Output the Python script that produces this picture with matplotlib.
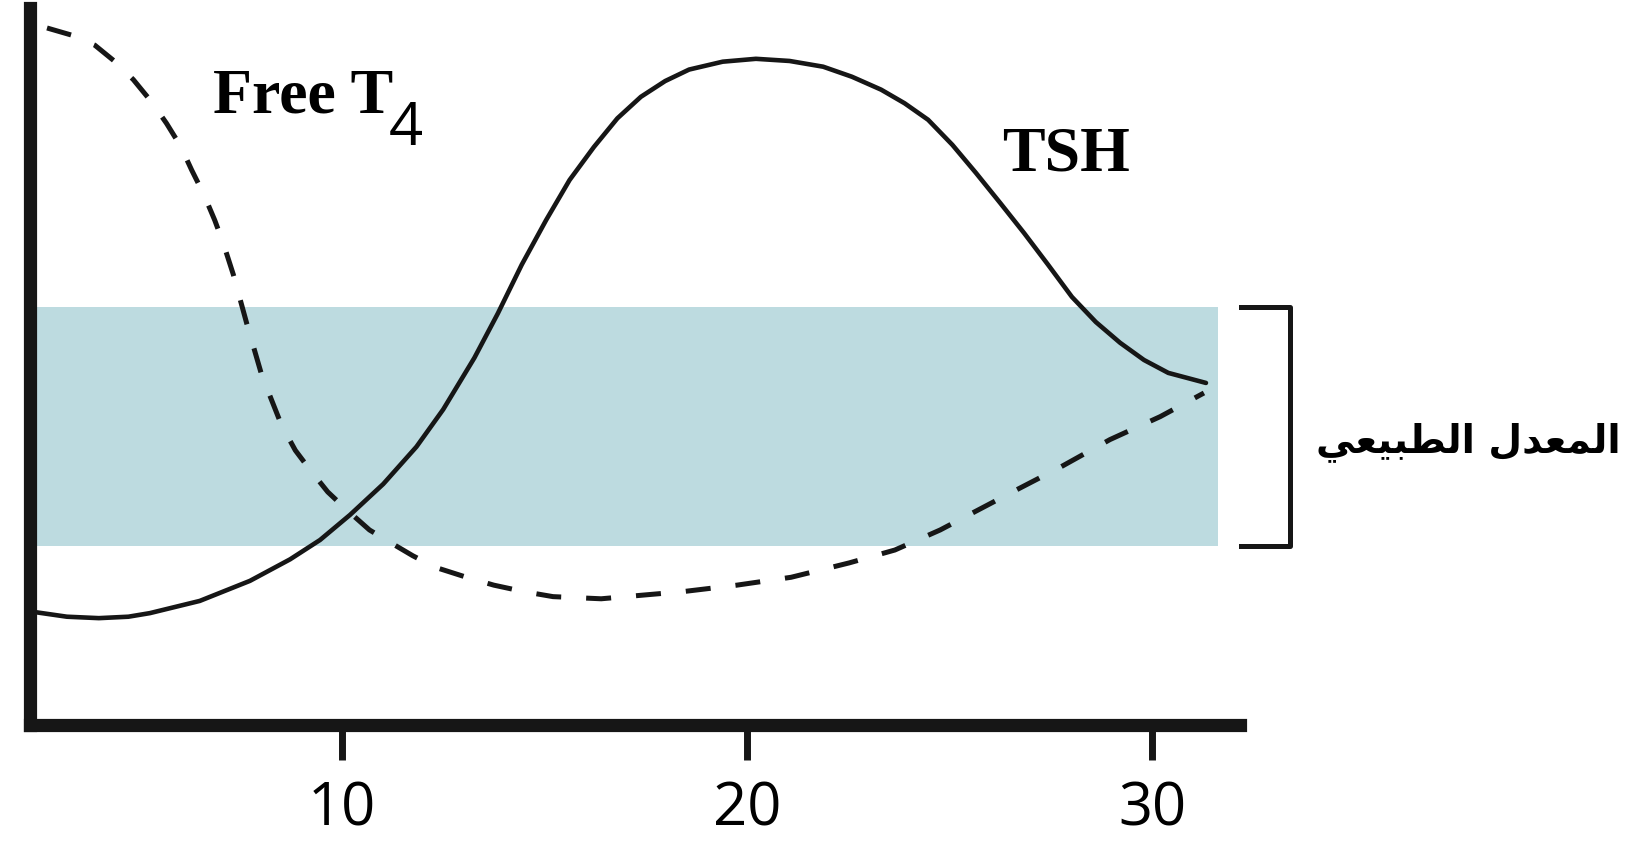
import matplotlib
matplotlib.use('Agg')
import matplotlib.pyplot as plt

# Kurven (x = Zeit, y = relative Konzentration)
tsh_x = [2.35, 3.21, 4.0, 4.73, 5.26, 6.49, 7.73, 8.72, 9.46, 10.20, 11.02, 11.84,
         12.50, 13.27, 13.85, 14.44, 15.04, 15.62, 16.22, 16.80, 17.38, 17.98,
         18.57, 19.40, 20.22, 21.05, 21.88, 22.59, 23.31, 23.89, 24.47, 25.07, 25.65,
         26.25, 26.84, 27.43, 28.02, 28.61, 29.21, 29.80, 30.40, 31.33]
tsh_y = [15.8, 15.1, 14.9, 15.1, 15.6, 17.3, 20.1, 23.1, 25.8, 29.3, 33.6, 38.8,
         44.0, 51.2, 57.4, 64.2, 70.4, 76.0, 80.6, 84.6, 87.6, 89.8,
         91.4, 92.5, 92.9, 92.6, 91.8, 90.4, 88.6, 86.7, 84.4, 80.9, 77.0,
         72.8, 68.6, 64.2, 59.7, 56.2, 53.3, 50.9, 49.1, 47.7]

t4_x = [2.72, 3.33, 3.90, 4.40, 4.85, 5.30, 5.67, 6.02, 6.29, 6.59, 6.86, 7.07, 7.32,
        7.65, 8.02, 8.51, 8.85, 9.21, 9.65, 10.12, 10.68, 11.21, 11.75, 12.30, 13.02,
        13.75, 14.49, 15.21, 16.40, 18.42, 19.75, 21.09, 22.52, 23.65, 24.77, 26.52,
        27.75, 28.96, 30.20, 31.28]
t4_y = [97.2, 96.2, 94.8, 92.5, 90.0, 86.9, 83.9, 80.7, 77.4, 74.0, 70.4, 67.2, 62.8,
        56.0, 48.8, 41.8, 38.3, 35.6, 32.5, 30.0, 27.2, 25.4, 23.6, 22.0, 20.7,
        19.5, 18.6, 17.9, 17.6, 18.6, 19.5, 20.6, 22.6, 24.4, 27.2, 32.4,
        36.0, 39.8, 43.0, 46.3]

# Normalbereich
band_x = [2.32, 31.63]
band_unten = 25.0
band_oben = 58.3

xticks = [10, 20, 30]
label_t4 = 'Free T'
label_t4_sub = '4'
label_tsh = 'TSH'
label_normal = 'المعدل الطبيعي'

# Arabische Buchstabenformen (isoliert, final, initial, medial)
formen = {
    'ا': ('\ufe8d', '\ufe8e', None, None),
    'د': ('\ufea9', '\ufeaa', None, None),
    'ل': ('\ufedd', '\ufede', '\ufedf', '\ufee0'),
    'م': ('\ufee1', '\ufee2', '\ufee3', '\ufee4'),
    'ع': ('\ufec9', '\ufeca', '\ufecb', '\ufecc'),
    'ط': ('\ufec1', '\ufec2', '\ufec3', '\ufec4'),
    'ب': ('\ufe8f', '\ufe90', '\ufe91', '\ufe92'),
    'ي': ('\ufef1', '\ufef2', '\ufef3', '\ufef4'),
}


def arabisch(text):
    woerter = []
    for wort in text.split(' '):
        aus = ''
        for i, c in enumerate(wort):
            vor = i > 0 and formen[wort[i - 1]][2] is not None
            nach = i < len(wort) - 1 and formen[c][2] is not None
            f = formen[c]
            if vor and nach:
                aus += f[3]
            elif vor:
                aus += f[1]
            elif nach:
                aus += f[2]
            else:
                aus += f[0]
        woerter.append(aus)
    # visuelle Reihenfolge von links nach rechts
    return ' '.join(woerter)[::-1]


schwarz = '#161616'

fig = plt.figure(figsize=(16.28, 8.451), dpi=100)
ax = fig.add_axes([30 / 1628, 120 / 845, 1210 / 1628, 717 / 845])
ax.set_xlim(2.3, 32.17)
ax.set_ylim(0, 100)

ax.fill_between(band_x, band_unten, band_oben, color='#bddbe0', lw=0, zorder=1)
ax.plot(tsh_x, tsh_y, color=schwarz, lw=3.3, solid_capstyle='round',
        solid_joinstyle='round', zorder=3)
ax.plot(t4_x, t4_y, color=schwarz, lw=3.6, linestyle=(0, (5, 5)), zorder=3)

# Klammer rechts neben dem Normalbereich
ax.plot([32.2, 33.41, 33.41, 32.2], [band_oben, band_oben, band_unten, band_unten],
        color=schwarz, lw=3.6, clip_on=False)

for s in ['top', 'right']:
    ax.spines[s].set_visible(False)
for s in ['left', 'bottom']:
    ax.spines[s].set_linewidth(9.5)
    ax.spines[s].set_color(schwarz)
    ax.spines[s].set_capstyle('projecting')

ax.set_yticks([])
ax.set_xticks(xticks)
ax.tick_params(axis='x', length=25, width=5, pad=14, labelsize=43, color=schwarz)
for lbl in ax.get_xticklabels():
    lbl.set_fontfamily('Open Sans')

ax.text(6.81, 85.4, label_t4, fontsize=46, fontweight='bold',
        family='Liberation Serif', color='black')
ax.text(11.15, 80.9, label_t4_sub, fontsize=43, family='Open Sans', color='black')
ax.text(26.3, 77.4, label_tsh, fontsize=46, fontweight='bold',
        family='Liberation Serif', color='black')
ax.text(41.56, 38.1, arabisch(label_normal), fontsize=28, fontweight='bold',
        family=['DejaVu Sans'], ha='right', va='baseline', clip_on=False, color='black')

fig.savefig('out.png', dpi=100)
